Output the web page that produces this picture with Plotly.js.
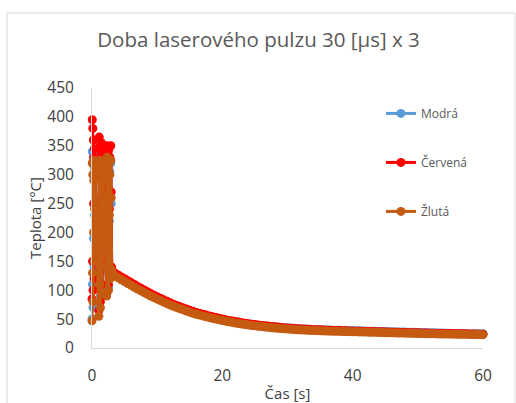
<!DOCTYPE html>
<html>
<head>
<meta charset="utf-8">
<script src="https://cdn.plot.ly/plotly-3.0.1.min.js"></script>
<style>html,body{margin:0;padding:0;background:#fff;}#chart{width:516px;height:403px;}</style>
</head>
<body>
<div id="chart"></div>
<script>
// --- data ---
var nazvyRad = ['Modrá', 'Červená', 'Žlutá'];
var barvy = ['#5B9BD5', '#FF0000', '#C55A11'];

var casPulzy = [0.00,0.04,0.08,0.12,0.16,0.20,0.24,0.28,0.32,0.36,0.40,0.46,
                1.05,1.11,1.17,1.23,1.29,1.35,1.41,1.47,1.53,1.59,1.65,1.70,
                2.25,2.32,2.39,2.46,2.53,2.60,2.67,2.74,2.81,2.88,2.95,3.02];
var casChladnuti = [3.2,3.5,4,4.5,5,5.5,6,6.5,7,7.5,
                    8,8.5,9,9.5,10,10.5,11,11.5,12,12.5,
                    13,13.5,14,14.5,15,15.5,16,16.5,17,17.5,
                    18,18.5,19,19.5,20,20.5,21,21.5,22,22.5,
                    23,23.5,24,24.5,25,25.5,26,26.5,27,27.5,
                    28,28.5,29,29.5,30,30.5,31,31.5,32,32.5,
                    33,33.5,34,34.5,35,35.5,36,36.5,37,37.5,
                    38,38.5,39,39.5,40,40.5,41,41.5,42,42.5,
                    43,43.5,44,44.5,45,45.5,46,46.5,47,47.5,
                    48,48.5,49,49.5,50,50.5,51,51.5,52,52.5,
                    53,53.5,54,54.5,55,55.5,56,56.5,57,57.5,
                    58,58.5,59,59.5,60];

var modraPulzy = [50,340,110,320,70,330,190,300,140,335,230,310,
                  70,335,120,320,90,310,200,330,100,300,240,325,
                  95,330,135,315,105,325,220,305,125,320,250,135];
var cervenaPulzy = [85,395,150,380,100,360,250,330,120,345,200,300,
                    65,365,130,350,80,340,220,355,110,330,180,345,
                    95,350,150,340,110,345,240,330,130,350,270,140];
var zlutaPulzy = [47,320,130,300,80,325,200,290,150,315,240,310,
                  55,325,110,310,70,300,180,320,95,290,250,315,
                  90,330,140,310,100,320,230,300,120,325,260,135];

var modraChladnuti = [130,128,124.5,121,118,114.5,111.2,108,104.8,101.7,
                      98.6,95.5,92.5,89.6,86.8,84.2,81.7,79.2,76.7,74.4,
                      72.1,70,68,66,64.1,62.3,60.6,59,57.4,55.9,
                      54.4,53.1,51.8,50.5,49.3,48.2,47.1,46.1,45.2,44.3,
                      43.4,42.5,41.7,40.9,40.2,39.5,38.8,38.2,37.6,37.1,
                      36.6,36.1,35.6,35.2,34.8,34.4,34,33.6,33.3,33,
                      32.7,32.4,32.1,31.9,31.7,31.5,31.3,31.1,30.9,30.7,
                      30.55,30.4,30.25,30.1,29.95,29.8,29.65,29.5,29.35,29.2,
                      29.05,28.9,28.75,28.6,28.45,28.3,28.15,28,27.85,27.7,
                      27.55,27.4,27.25,27.1,26.95,26.8,26.65,26.5,26.35,26.2,
                      26.05,25.9,25.75,25.6,25.45,25.3,25.15,25,24.9,24.8,
                      24.75,24.7,24.65,24.6,24.6];
var cervenaChladnuti = [132,130,126.5,123,120,116.5,113.2,110,106.6,103.5,
                        100.4,97.3,94.2,91.3,88.5,85.9,83.3,80.7,78.2,75.8,
                        73.5,71.4,69.3,67.3,65.2,63.4,61.6,60,58.4,56.9,
                        55.3,54,52.7,51.3,50.1,48.9,47.8,46.8,45.8,44.8,
                        43.9,43,42.1,41.3,40.5,39.8,39.1,38.5,37.9,37.3,
                        36.7,36.2,35.6,35.1,34.7,34.2,33.8,33.4,33,32.7,
                        32.4,32.1,31.8,31.6,31.4,31.1,30.9,30.7,30.5,30.3,
                        30.1,29.95,29.8,29.6,29.4,29.2,29.05,28.9,28.75,28.6,
                        28.4,28.25,28.1,27.95,27.8,27.6,27.45,27.3,27.15,27,
                        26.85,26.7,26.5,26.35,26.2,26.05,25.9,25.75,25.6,25.5,
                        25.4,25.3,25.2,25.1,25,24.9,24.8,24.7,24.6,24.5,
                        24.4,24.3,24.1,24,23.9];
var zlutaChladnuti = [127,125,121.5,118.2,115,111.7,108.5,105.2,102,99,
                      96,93,90,87.2,84.5,82,79.5,77,74.5,72.2,
                      70,68,66,64,62,60.2,58.5,57,55.5,54,
                      52.5,51.2,50,48.7,47.5,46.4,45.3,44.3,43.3,42.4,
                      41.5,40.6,39.8,39,38.3,37.6,37,36.4,35.8,35.2,
                      34.7,34.2,33.7,33.2,32.8,32.4,32,31.6,31.3,31,
                      30.7,30.4,30.2,30,29.8,29.6,29.4,29.2,29,28.85,
                      28.7,28.55,28.4,28.25,28.1,27.95,27.8,27.65,27.5,27.35,
                      27.2,27.05,26.9,26.75,26.6,26.45,26.3,26.15,26,25.85,
                      25.7,25.55,25.4,25.25,25.1,24.95,24.8,24.7,24.6,24.5,
                      24.4,24.3,24.2,24.1,24,23.9,23.8,23.7,23.6,23.5,
                      23.4,23.3,23.2,23.15,23.1];

var xTicks = [0, 20, 40, 60];
var yTicks = [0,50,100,150,200,250,300,350,400,450];

// --- build ---
var cas = casPulzy.concat(casChladnuti);
var hodnoty = [modraPulzy.concat(modraChladnuti), cervenaPulzy.concat(cervenaChladnuti), zlutaPulzy.concat(zlutaChladnuti)];

var traces = nazvyRad.map(function(n, i){
  return {
    x: cas, y: hodnoty[i], name: n, type: 'scatter', mode: 'lines+markers',
    line: {color: barvy[i], width: 3},
    marker: {color: barvy[i], size: 9, symbol: 'circle'},
    cliponaxis: false, legendgroup: 'g' + i
  };
});

var fontFam = '"Open Sans", "Noto Sans", sans-serif';
var layout = {
  width: 516, height: 403,
  margin: {l: 92, r: 33, t: 88, b: 55},
  paper_bgcolor: '#ffffff', plot_bgcolor: '#ffffff',
  font: {family: fontFam, color: '#595959', size: 13},
  title: {text: 'Doba laserového pulzu 30 [µs] x 3', font: {family: fontFam, size: 20.5, color: '#595959'},
          x: 0.501, xanchor: 'center', y: 0.902, yanchor: 'middle', yref: 'container'},
  xaxis: {
    range: [0, 60], tickvals: xTicks, showgrid: false, zeroline: false,
    showline: true, linecolor: '#d9d9d9', linewidth: 1,
    ticks: 'outside', ticklen: 13, tickcolor: 'rgba(0,0,0,0)',
    tickfont: {family: fontFam, size: 15.5, color: '#404040'},
    title: {text: 'Čas [s]', font: {family: fontFam, size: 15, color: '#404040'}, standoff: 16}
  },
  yaxis: {
    range: [0, 450], tickvals: yTicks, showgrid: false, zeroline: false,
    showline: true, linecolor: '#d9d9d9', linewidth: 1,
    ticks: 'outside', ticklen: 14, tickcolor: 'rgba(0,0,0,0)',
    tickfont: {family: fontFam, size: 15.5, color: '#404040'},
    title: {text: 'Teplota [°C]', font: {family: fontFam, size: 15, color: '#404040'}, standoff: 2}
  },
  legend: {
    x: 0.739, xanchor: 'left', y: 0.958, yanchor: 'top',
    traceorder: 'grouped', tracegroupgap: 30,
    font: {family: fontFam, size: 12, color: '#595959'},
    bgcolor: 'rgba(0,0,0,0)'
  },
  shapes: [{
    type: 'rect', xref: 'paper', yref: 'paper',
    x0: -0.2174, x1: 1.0818, y0: -0.3, y1: 1.2885,
    line: {color: '#d9d9d9', width: 1}, fillcolor: 'rgba(0,0,0,0)', layer: 'below'
  }],
  showlegend: true
};

Plotly.newPlot('chart', traces, layout, {displayModeBar: false, staticPlot: true});
</script>
</body>
</html>
